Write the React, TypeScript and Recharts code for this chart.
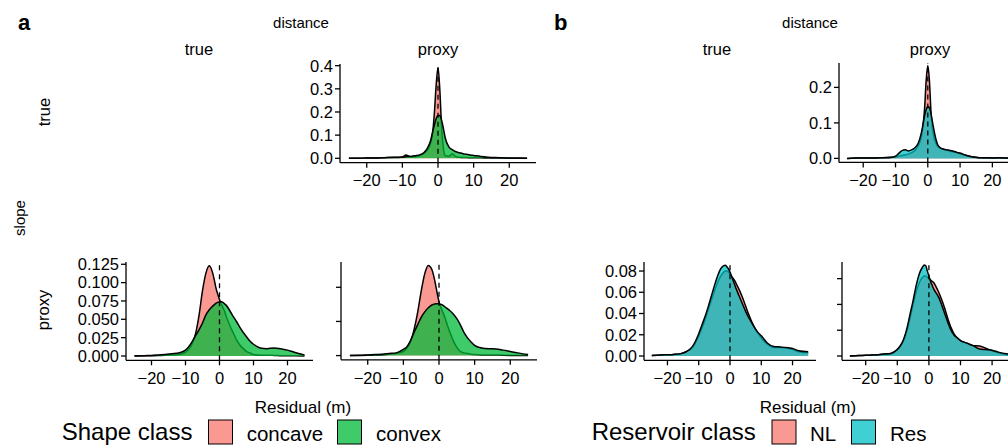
import React from 'react';
import { AreaChart, Area, XAxis, YAxis, ReferenceLine } from 'recharts';

const FONT = '"Liberation Sans", Arial, Helvetica, sans-serif';

// Residual grid (m)
const xs = [-25, -22, -20, -18, -16, -14, -12, -10, -9, -8, -7, -6, -5, -4, -3, -2, -1.5, -1, -0.5, 0, 0.5, 1, 1.5, 2, 3, 4, 5, 6, 7, 8, 9, 10, 12, 14, 16, 18, 20, 22, 25];
const xTicks = [-20, -10, 0, 10, 20];

// Panel a: slope = true, distance = proxy
const aTopConcave = [0, 0.0005, 0.001, 0.001, 0.002, 0.003, 0.003, 0.006, 0.014, 0.008, 0.006, 0.008, 0.012, 0.02, 0.035, 0.07, 0.11, 0.2, 0.32, 0.392, 0.3, 0.14, 0.045, 0.012, 0.009, 0.02, 0.007, 0.004, 0.003, 0.003, 0.002, 0.002, 0.002, 0.001, 0.001, 0.001, 0.0005, 0.0005, 0];
const aTopConvex = [0, 0.0005, 0.001, 0.001, 0.002, 0.003, 0.004, 0.005, 0.007, 0.008, 0.01, 0.012, 0.016, 0.024, 0.043, 0.08, 0.115, 0.145, 0.172, 0.185, 0.185, 0.165, 0.13, 0.09, 0.05, 0.037, 0.028, 0.024, 0.02, 0.017, 0.014, 0.012, 0.008, 0.005, 0.003, 0.002, 0.001, 0.001, 0];
// Panel a: slope = proxy, distance = true
const aBLConcave = [0, 0.0002, 0.0004, 0.0007, 0.001, 0.0015, 0.002, 0.005, 0.009, 0.017, 0.031, 0.056, 0.089, 0.113, 0.123, 0.113, 0.103, 0.092, 0.084, 0.077, 0.071, 0.066, 0.061, 0.054, 0.042, 0.032, 0.022, 0.015, 0.01, 0.006, 0.004, 0.002, 0.001, 0.001, 0.0008, 0.0005, 0.0003, 0.0002, 0];
const aBLConvex = [0.0002, 0.0005, 0.0008, 0.0012, 0.002, 0.003, 0.004, 0.008, 0.013, 0.02, 0.028, 0.036, 0.045, 0.056, 0.063, 0.068, 0.07, 0.072, 0.073, 0.074, 0.074, 0.073, 0.071, 0.069, 0.062, 0.054, 0.047, 0.039, 0.032, 0.026, 0.02, 0.016, 0.011, 0.01, 0.011, 0.01, 0.008, 0.005, 0.0015];
// Panel a: slope = proxy, distance = proxy
const aBRConcave = [0, 0.0003, 0.0005, 0.0008, 0.001, 0.002, 0.003, 0.006, 0.011, 0.02, 0.038, 0.063, 0.094, 0.12, 0.132, 0.126, 0.117, 0.105, 0.091, 0.079, 0.071, 0.064, 0.058, 0.05, 0.035, 0.022, 0.012, 0.006, 0.004, 0.003, 0.002, 0.0015, 0.001, 0.001, 0.0008, 0.0005, 0.0003, 0.0002, 0];
const aBRConvex = [0.0002, 0.0005, 0.001, 0.0015, 0.002, 0.003, 0.004, 0.009, 0.013, 0.022, 0.034, 0.045, 0.056, 0.064, 0.07, 0.074, 0.075, 0.076, 0.076, 0.076, 0.075, 0.074, 0.072, 0.07, 0.066, 0.061, 0.054, 0.045, 0.034, 0.026, 0.02, 0.015, 0.011, 0.01, 0.0098, 0.008, 0.006, 0.004, 0.0015];

// Panel b: slope = true, distance = proxy
const bTopNL = [0, 0.001, 0.001, 0.001, 0.001, 0.002, 0.003, 0.004, 0.006, 0.008, 0.01, 0.012, 0.016, 0.022, 0.035, 0.06, 0.09, 0.14, 0.22, 0.262, 0.22, 0.13, 0.08, 0.055, 0.035, 0.028, 0.025, 0.023, 0.02, 0.018, 0.016, 0.013, 0.008, 0.004, 0.002, 0.001, 0.001, 0.001, 0];
const bTopRes = [0, 0.001, 0.001, 0.001, 0.001, 0.002, 0.002, 0.006, 0.014, 0.022, 0.024, 0.021, 0.024, 0.03, 0.042, 0.072, 0.095, 0.12, 0.138, 0.146, 0.143, 0.125, 0.1, 0.075, 0.04, 0.029, 0.026, 0.024, 0.022, 0.02, 0.017, 0.015, 0.008, 0.004, 0.002, 0.002, 0.001, 0.002, 0.001];
// Panel b: slope = proxy, distance = true
const bBLNL = [0.0005, 0.001, 0.0012, 0.0015, 0.002, 0.004, 0.008, 0.019, 0.026, 0.034, 0.043, 0.052, 0.061, 0.069, 0.075, 0.079, 0.08, 0.08, 0.079, 0.077, 0.075, 0.073, 0.071, 0.068, 0.062, 0.055, 0.047, 0.039, 0.032, 0.026, 0.021, 0.017, 0.011, 0.008, 0.008, 0.0075, 0.006, 0.004, 0.003];
const bBLRes = [0.0005, 0.001, 0.0012, 0.0015, 0.002, 0.004, 0.009, 0.021, 0.029, 0.037, 0.046, 0.056, 0.066, 0.075, 0.082, 0.085, 0.0855, 0.084, 0.082, 0.079, 0.075, 0.071, 0.067, 0.063, 0.056, 0.049, 0.042, 0.036, 0.031, 0.026, 0.022, 0.019, 0.012, 0.009, 0.0085, 0.008, 0.007, 0.005, 0.004];
// Panel b: slope = proxy, distance = proxy
const bBRNL = [0, 0.0004, 0.0005, 0.0008, 0.001, 0.0015, 0.002, 0.005, 0.008, 0.012, 0.019, 0.029, 0.04, 0.05, 0.057, 0.061, 0.062, 0.062, 0.061, 0.06, 0.059, 0.058, 0.057, 0.055, 0.05, 0.044, 0.037, 0.029, 0.022, 0.017, 0.014, 0.012, 0.01, 0.008, 0.0078, 0.006, 0.004, 0.0025, 0.001];
const bBRRes = [0, 0.0004, 0.0005, 0.0008, 0.001, 0.0015, 0.002, 0.005, 0.008, 0.013, 0.021, 0.032, 0.043, 0.055, 0.064, 0.069, 0.0705, 0.07, 0.066, 0.062, 0.058, 0.055, 0.052, 0.05, 0.046, 0.04, 0.033, 0.026, 0.02, 0.016, 0.014, 0.012, 0.01, 0.008, 0.0055, 0.005, 0.0045, 0.003, 0.0015];

const shapeClasses = ['concave', 'convex'];
const reservoirClasses = ['NL', 'Res'];
const shapeColors = ['#F8766D', '#00BA38'];
const reservoirColors = ['#F8766D', '#00BFC4'];

const ticksA_top = [0, 0.1, 0.2, 0.3, 0.4];
const ticksA_bl = [0, 0.025, 0.05, 0.075, 0.1, 0.125];
const ticksA_br = [0, 0.05, 0.1];
const ticksB_top = [0, 0.1, 0.2];
const ticksB_bl = [0, 0.02, 0.04, 0.06, 0.08];
const ticksB_br = [0, 0.02, 0.04, 0.06];

const build = (s1: number[], s2: number[]) => xs.map((x, i) => ({ x, s1: s1[i], s2: s2[i] }));

const fmtX = (v: number) => (v < 0 ? '\u2212' + Math.abs(v) : String(v));

type PanelProps = {
  left: number; top: number; w: number; h: number;
  s1: number[]; s2: number[]; colors: string[];
  yDomain: [number, number]; yTicks: number[]; yFmt: (v: number) => string;
};

const YW = 80, MT = 6, MR = 6, XH = 40;
const LW = 1.3;
const TICK_FS = 16.5;

function Panel({ left, top, w, h, s1, s2, colors, yDomain, yTicks, yFmt }: PanelProps) {
  const rows = build(s1, s2);
  return (
    <div style={{ position: 'absolute', left: left - YW, top: top - MT }}>
      <AreaChart width={w + YW + MR} height={h + MT + XH} data={rows} margin={{ top: MT, right: MR, bottom: 0, left: 0 }}>
        <XAxis
          dataKey="x" type="number" domain={[-27.5, 27.5]} ticks={xTicks} allowDataOverflow interval={0}
          height={XH} tickSize={5} tickMargin={7}
          axisLine={{ stroke: '#000', strokeWidth: LW }} tickLine={{ stroke: '#000', strokeWidth: LW }}
          tick={{ fill: '#000', fontSize: TICK_FS, fontFamily: FONT }} tickFormatter={fmtX}
        />
        <YAxis
          type="number" domain={yDomain} ticks={yTicks} allowDataOverflow interval={0}
          width={YW} tickSize={5} tickMargin={2}
          axisLine={{ stroke: '#000', strokeWidth: LW }} tickLine={{ stroke: '#000', strokeWidth: LW }}
          tick={{ fill: '#000', fontSize: TICK_FS, fontFamily: FONT }} tickFormatter={yFmt}
        />
        <Area type="monotone" dataKey="s1" baseValue={0} fill={colors[0]} fillOpacity={0.75} stroke="#000" strokeWidth={1.5} isAnimationActive={false} dot={false} activeDot={false} />
        <Area type="monotone" dataKey="s2" baseValue={0} fill={colors[1]} fillOpacity={0.75} stroke="#000" strokeWidth={1.5} isAnimationActive={false} dot={false} activeDot={false} />
        <ReferenceLine x={0} stroke="#000" strokeWidth={1.3} strokeDasharray="5 4" />
      </AreaChart>
    </div>
  );
}

const none = () => '';

export default function App() {
  const T = { fontFamily: FONT, fill: '#000' } as const;
  return (
    <div style={{ position: 'absolute', left: 0, top: 0, width: 1008, height: 445, overflow: 'hidden', background: '#fff' }}>
      {/* Panel a */}
      <Panel left={339.5} top={64} w={196} h={98.7} s1={aTopConcave} s2={aTopConvex} colors={shapeColors}
        yDomain={[-0.019, 0.4073]} yTicks={ticksA_top} yFmt={(v) => v.toFixed(1)} />
      <Panel left={126} top={261.7} w={187} h={98.3} s1={aBLConcave} s2={aBLConvex} colors={shapeColors}
        yDomain={[-0.00586, 0.1281]} yTicks={ticksA_bl} yFmt={(v) => v.toFixed(3)} />
      <Panel left={340.5} top={261.7} w={196} h={97.8} s1={aBRConcave} s2={aBRConvex} colors={shapeColors}
        yDomain={[-0.00615, 0.137]} yTicks={ticksA_br} yFmt={none} />
      {/* Panel b */}
      <Panel left={839} top={63.3} w={177.6} h={99.4} s1={bTopNL} s2={bTopRes} colors={reservoirColors}
        yDomain={[-0.01127, 0.2687]} yTicks={ticksB_top} yFmt={(v) => v.toFixed(1)} />
      <Panel left={644} top={261.7} w={172} h={98.3} s1={bBLNL} s2={bBLRes} colors={reservoirColors}
        yDomain={[-0.00405, 0.0885]} yTicks={ticksB_bl} yFmt={(v) => v.toFixed(2)} />
      <Panel left={842.4} top={261.7} w={173.8} h={98.3} s1={bBRNL} s2={bBRRes} colors={reservoirColors}
        yDomain={[-0.00333, 0.0729]} yTicks={ticksB_br} yFmt={none} />

      <svg width={1008} height={445} style={{ position: 'absolute', left: 0, top: 0, pointerEvents: 'none' }}>
        <text x={18} y={30} fontSize={22} fontWeight="bold" {...T}>a</text>
        <text x={554} y={30} fontSize={22} fontWeight="bold" {...T}>b</text>

        <text x={301} y={28} fontSize={15} textAnchor="middle" {...T}>distance</text>
        <text x={810} y={28} fontSize={15} textAnchor="middle" {...T}>distance</text>
        <text x={199} y={55} fontSize={16.5} textAnchor="middle" {...T}>true</text>
        <text x={438} y={55} fontSize={16.5} textAnchor="middle" {...T}>proxy</text>
        <text x={717} y={55} fontSize={16.5} textAnchor="middle" {...T}>true</text>
        <text x={930} y={55} fontSize={16.5} textAnchor="middle" {...T}>proxy</text>

        <text transform="translate(25,218) rotate(-90)" fontSize={15} textAnchor="middle" {...T}>slope</text>
        <text transform="translate(50,112) rotate(-90)" fontSize={16.5} textAnchor="middle" {...T}>true</text>
        <text transform="translate(49,310) rotate(-90)" fontSize={16.5} textAnchor="middle" {...T}>proxy</text>

        <text x={303} y={413} fontSize={17} textAnchor="middle" {...T}>Residual (m)</text>
        <text x={808} y={413} fontSize={17} textAnchor="middle" {...T}>Residual (m)</text>

        {/* Legend a */}
        <text x={61.7} y={440} fontSize={24} {...T}>Shape class</text>
        <rect x={208.5} y={420} width={24} height={24} fill={shapeColors[0]} fillOpacity={0.75} stroke="#000" strokeWidth={1} />
        <text x={246.7} y={440.5} fontSize={20.5} {...T}>{shapeClasses[0]}</text>
        <rect x={337.5} y={420} width={24} height={24} fill={shapeColors[1]} fillOpacity={0.75} stroke="#000" strokeWidth={1} />
        <text x={376} y={440.5} fontSize={20.5} {...T}>{shapeClasses[1]}</text>

        {/* Legend b */}
        <text x={591.7} y={440} fontSize={24} {...T}>Reservoir class</text>
        <rect x={772} y={420} width={24} height={24} fill={reservoirColors[0]} fillOpacity={0.75} stroke="#000" strokeWidth={1} />
        <text x={810} y={440.5} fontSize={20.5} {...T}>{reservoirClasses[0]}</text>
        <rect x={851.5} y={420} width={24} height={24} fill={reservoirColors[1]} fillOpacity={0.75} stroke="#000" strokeWidth={1} />
        <text x={890} y={440.5} fontSize={20.5} {...T}>{reservoirClasses[1]}</text>
      </svg>
    </div>
  );
}
